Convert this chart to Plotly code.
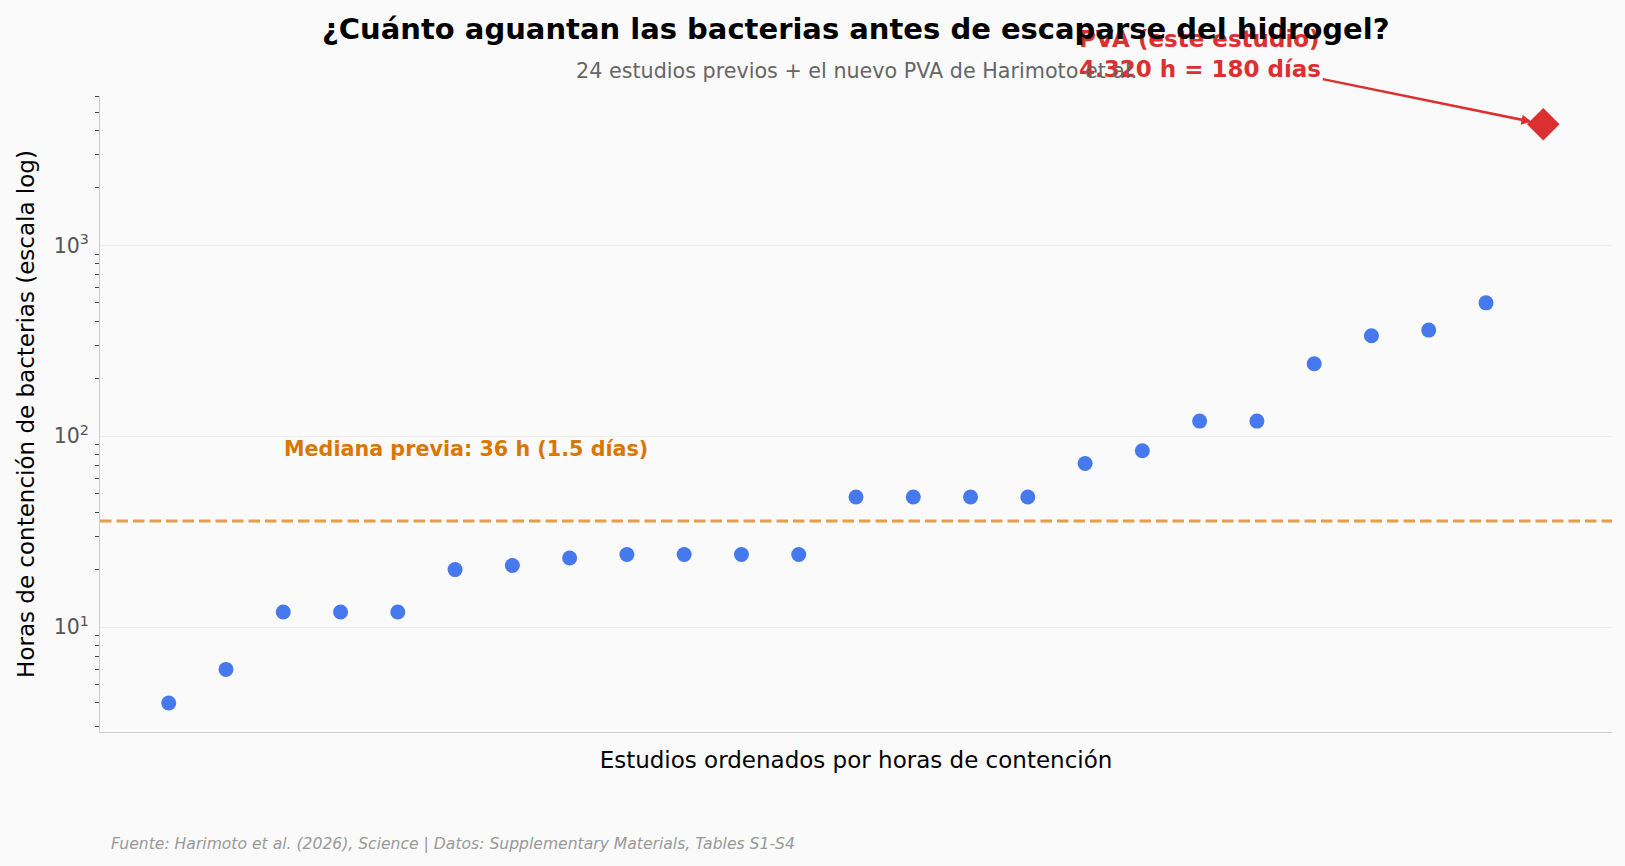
import plotly.graph_objects as go

# Data
study_rank = list(range(1, 25))
hours_prev = [4, 6, 12, 12, 12, 20, 21, 23, 24, 24, 24, 24,
              48, 48, 48, 48, 72, 84, 120, 120, 240, 336, 360, 500]
pva_rank = [25]
pva_hours = [4320]
median_prev = 36
y_tick_vals = [10, 100, 1000]
y_tick_text = ["10<sup>1</sup>", "10<sup>2</sup>", "10<sup>3</sup>"]
y_minor_vals = [3, 4, 5, 6, 7, 8, 9, 20, 30, 40, 50, 60, 70, 80, 90,
                200, 300, 400, 500, 600, 700, 800, 900, 2000, 3000, 4000, 5000, 6000]

BLUE = "#4679EE"
RED = "#DC2F2F"
ORANGE = "#E89D48"
ORANGE_TXT = "#D97706"
BG = "#FAFAFA"
FONT = "DejaVu Sans"

fig = go.Figure()
fig.add_trace(go.Scatter(x=study_rank, y=hours_prev, mode="markers",
                         marker=dict(color=BLUE, size=15), showlegend=False))
fig.add_trace(go.Scatter(x=pva_rank, y=pva_hours, mode="markers",
                         marker=dict(color=RED, size=25, symbol="diamond"), showlegend=False))

fig.add_shape(type="line", xref="paper", x0=0, x1=1, y0=median_prev, y1=median_prev,
              line=dict(color=ORANGE, width=3, dash="11.5px,5px"))

fig.add_annotation(x=2.97, y=1.935, xref="x", yref="y", text="<b>Mediana previa: 36 h (1.5 días)</b>",
                   showarrow=False, xanchor="left", yanchor="middle",
                   font=dict(color=ORANGE_TXT, size=20.7, family=FONT))

fig.add_annotation(x=25, y=3.6355, xref="x", yref="y",
                   text="<b>PVA (este estudio)<br>4.320 h = 180 días</b>",
                   showarrow=True, ax=-343, ay=-70, arrowcolor=RED, arrowwidth=2.5,
                   arrowhead=2, arrowsize=0.8, standoff=12,
                   font=dict(color=RED, size=23, family=FONT), align="left")

fig.add_annotation(x=0.5, y=1.106, xref="paper", yref="paper",
                   text="<b>¿Cuánto aguantan las bacterias antes de escaparse del hidrogel?</b>",
                   showarrow=False, xanchor="center", yanchor="middle",
                   font=dict(color="black", size=29, family=FONT))
fig.add_annotation(x=0.5, y=1.039, xref="paper", yref="paper",
                   text="24 estudios previos + el nuevo PVA de Harimoto et al.",
                   showarrow=False, xanchor="center", yanchor="middle",
                   font=dict(color="#666666", size=20.7, family=FONT))

fig.add_annotation(x=0.006, y=-0.176, xref="paper", yref="paper",
                   text="<i>Fuente: Harimoto et al. (2026), Science | Datos: Supplementary Materials, Tables S1-S4</i>",
                   showarrow=False, xanchor="left", yanchor="middle",
                   font=dict(color="#999999", size=15.6, family=FONT))

fig.update_layout(
    width=1625, height=866,
    paper_bgcolor=BG, plot_bgcolor=BG,
    font=dict(family=FONT, color="#222"),
    margin=dict(l=100, r=13, t=96, b=134),
    xaxis=dict(range=[-0.2, 26.2], showticklabels=False, showgrid=False, zeroline=False,
               showline=True, linecolor="#cccccc", linewidth=1, ticks="",
               title=dict(text="Estudios ordenados por horas de contención",
                          font=dict(size=23, color="black"), standoff=19)),
    yaxis=dict(type="log", range=[0.45, 3.783], showgrid=True, gridcolor="#eeeeee",
               showline=True, linecolor="#cccccc", linewidth=1, zeroline=False,
               tickmode="array", tickvals=y_tick_vals, ticktext=y_tick_text,
               ticks="outside", ticklen=6, tickcolor="rgba(0,0,0,0)",
               minor=dict(tickmode="array", tickvals=y_minor_vals, ticks="outside",
                          ticklen=4, tickcolor="#444", showgrid=False),
               tickfont=dict(size=20.5, color="#555"),
               title=dict(text="Horas de contención de bacterias (escala log)",
                          font=dict(size=23, color="black"), standoff=12)),
)

fig.write_html("out.html")
